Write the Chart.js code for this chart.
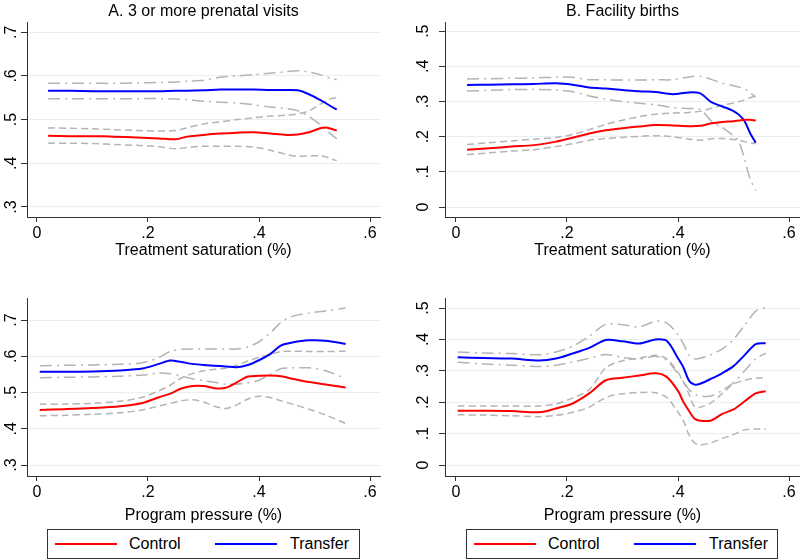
<!DOCTYPE html>
<html>
<head>
<meta charset="utf-8">
<script src="https://cdn.jsdelivr.net/npm/chart.js@4/dist/chart.umd.min.js"></script>
<style>
  body { margin:0; background:#fff; width:800px; height:560px; position:relative; overflow:hidden;
         font-family:"Liberation Sans", Arial, sans-serif; }
  canvas { position:absolute; }
  .legend { position:absolute; top:529px; width:313px; height:30px; border:1px solid #333; box-sizing:border-box; background:#fff; }
  .legend .ln { position:absolute; top:13px; width:62px; height:0; border-top:2px solid; }
  .legend .tx { position:absolute; top:0; line-height:28px; font-size:16px; color:#000; }
</style>
</head>
<body>
<canvas id="cA" width="400" height="260" style="left:0;top:0"></canvas>
<canvas id="cB" width="400" height="260" style="left:400px;top:0"></canvas>
<canvas id="cC" width="400" height="265" style="left:0;top:260px"></canvas>
<canvas id="cD" width="400" height="265" style="left:400px;top:260px"></canvas>

<div class="legend" style="left:47px">
  <div class="ln" style="left:7px;border-color:#ff0000"></div><div class="tx" style="left:81px">Control</div>
  <div class="ln" style="left:167px;border-color:#0000ff"></div><div class="tx" style="left:242px">Transfer</div>
</div>
<div class="legend" style="left:466px;width:312px">
  <div class="ln" style="left:7px;border-color:#ff0000"></div><div class="tx" style="left:81px">Control</div>
  <div class="ln" style="left:167px;border-color:#0000ff"></div><div class="tx" style="left:242px">Transfer</div>
</div>

<script>
// ---------- tick values and labels ----------
const xTicks = [0, 0.2, 0.4, 0.6];
const xTickLabels = ['0', '.2', '.4', '.6'];
const yTicksA = [0.3, 0.4, 0.5, 0.6, 0.7];
const yTickLabelsA = ['.3', '.4', '.5', '.6', '.7'];
const yTicksB = [0, 0.1, 0.2, 0.3, 0.4, 0.5];
const yTickLabelsB = ['0', '.1', '.2', '.3', '.4', '.5'];

// ---------- Panel A: 3 or more prenatal visits vs treatment saturation ----------
const aX          = [0.02, 0.06, 0.10, 0.14, 0.18, 0.22, 0.25, 0.27, 0.30, 0.33, 0.36, 0.39, 0.42, 0.45, 0.47, 0.49, 0.51, 0.52, 0.53, 0.54];
const aControl    = [0.463,0.462,0.462,0.461,0.459,0.457,0.455,0.461,0.465,0.468,0.470,0.471,0.468,0.465,0.466,0.471,0.480,0.482,0.479,0.475];
const aControlLo  = [0.446,0.446,0.445,0.443,0.441,0.438,0.433,0.436,0.439,0.439,0.439,0.437,0.430,0.420,0.416,0.417,0.417,0.415,0.410,0.406];
const aControlHi  = [0.481,0.480,0.479,0.477,0.475,0.474,0.475,0.481,0.490,0.495,0.500,0.504,0.508,0.510,0.513,0.520,0.535,0.542,0.548,0.550];
const aTransfer   = [0.566,0.566,0.565,0.565,0.565,0.565,0.566,0.566,0.567,0.569,0.569,0.569,0.568,0.568,0.567,0.558,0.545,0.538,0.530,0.523];
const aTransferLo = [0.548,0.548,0.548,0.548,0.548,0.548,0.547,0.546,0.542,0.540,0.538,0.534,0.529,0.525,0.520,0.507,0.489,0.477,0.466,0.456];
const aTransferHi = [0.583,0.583,0.583,0.583,0.584,0.585,0.586,0.588,0.590,0.597,0.600,0.603,0.606,0.610,0.612,0.609,0.603,0.598,0.594,0.592];

// ---------- Panel B: facility births vs treatment saturation ----------
const bX          = [0.02, 0.06, 0.10, 0.14, 0.18, 0.21, 0.24, 0.27, 0.30, 0.33, 0.36, 0.39, 0.42, 0.44, 0.46, 0.48, 0.50, 0.51, 0.52, 0.53, 0.54];
const bControl    = [0.163,0.167,0.172,0.176,0.186,0.197,0.209,0.218,0.224,0.229,0.233,0.232,0.230,0.231,0.238,0.242,0.244,0.246,0.248,0.248,0.246];
const bControlLo  = [0.149,0.154,0.159,0.163,0.172,0.180,0.190,0.195,0.198,0.201,0.203,0.200,0.193,0.190,0.194,0.195,0.192,0.190,0.186,0.183,0.180];
const bControlHi  = [0.178,0.183,0.188,0.193,0.198,0.206,0.220,0.235,0.247,0.257,0.264,0.267,0.269,0.272,0.281,0.289,0.296,0.300,0.305,0.311,0.316];
const bTransfer   = [0.347,0.348,0.349,0.350,0.352,0.348,0.340,0.337,0.333,0.329,0.327,0.321,0.326,0.323,0.298,0.286,0.273,0.262,0.244,0.210,0.183];
const bTransferLo = [0.330,0.332,0.334,0.334,0.333,0.328,0.316,0.307,0.300,0.295,0.291,0.283,0.280,0.278,0.245,0.226,0.202,0.185,0.135,0.080,0.047];
const bTransferHi = [0.364,0.365,0.366,0.367,0.369,0.369,0.362,0.362,0.361,0.361,0.362,0.362,0.370,0.372,0.363,0.352,0.345,0.341,0.336,0.325,0.313];

// ---------- Panel C: 3 or more prenatal visits vs program pressure ----------
const cX          = [0.005,0.05, 0.10, 0.15, 0.19, 0.22, 0.24, 0.26, 0.28, 0.30, 0.32, 0.34, 0.36, 0.38, 0.40, 0.42, 0.44, 0.46, 0.49, 0.52, 0.556];
const cControl    = [0.452,0.454,0.457,0.462,0.471,0.487,0.497,0.511,0.518,0.518,0.512,0.513,0.528,0.544,0.546,0.547,0.545,0.538,0.529,0.522,0.514];
const cControlLo  = [0.436,0.437,0.440,0.444,0.452,0.463,0.470,0.477,0.480,0.474,0.462,0.456,0.466,0.482,0.490,0.486,0.477,0.468,0.454,0.438,0.415];
const cControlHi  = [0.468,0.468,0.470,0.476,0.487,0.505,0.520,0.540,0.552,0.560,0.564,0.567,0.575,0.587,0.597,0.605,0.613,0.614,0.613,0.613,0.614];
const cTransfer   = [0.557,0.557,0.558,0.561,0.566,0.579,0.588,0.584,0.579,0.576,0.574,0.572,0.570,0.576,0.589,0.606,0.630,0.638,0.644,0.643,0.634];
const cTransferLo = [0.541,0.542,0.543,0.545,0.548,0.554,0.552,0.545,0.538,0.533,0.528,0.523,0.523,0.527,0.534,0.550,0.566,0.568,0.568,0.560,0.539];
const cTransferHi = [0.574,0.575,0.576,0.578,0.582,0.597,0.613,0.619,0.620,0.620,0.620,0.620,0.620,0.626,0.640,0.664,0.694,0.710,0.719,0.725,0.733];

// ---------- Panel D: facility births vs program pressure ----------
const dX          = [0.003,0.05, 0.10, 0.15, 0.18, 0.21, 0.24, 0.27, 0.30, 0.33, 0.36, 0.38, 0.40, 0.41, 0.42, 0.43, 0.44, 0.46, 0.48, 0.50, 0.52, 0.54, 0.558];
const dControl    = [0.173,0.173,0.172,0.168,0.180,0.196,0.228,0.270,0.278,0.285,0.292,0.280,0.236,0.200,0.172,0.147,0.141,0.142,0.163,0.177,0.203,0.228,0.235];
const dControlLo  = [0.160,0.159,0.157,0.154,0.158,0.168,0.184,0.215,0.227,0.231,0.230,0.215,0.168,0.140,0.095,0.070,0.064,0.071,0.085,0.097,0.112,0.115,0.114];
const dControlHi  = [0.188,0.188,0.188,0.188,0.195,0.213,0.240,0.310,0.332,0.340,0.350,0.338,0.295,0.265,0.225,0.185,0.184,0.199,0.228,0.258,0.270,0.277,0.277];
const dTransfer   = [0.343,0.341,0.339,0.333,0.339,0.355,0.373,0.398,0.394,0.387,0.400,0.395,0.340,0.310,0.268,0.256,0.259,0.275,0.293,0.315,0.350,0.385,0.388];
const dTransferLo = [0.327,0.322,0.318,0.314,0.318,0.328,0.340,0.352,0.343,0.338,0.346,0.333,0.290,0.265,0.240,0.226,0.220,0.220,0.238,0.262,0.300,0.338,0.356];
const dTransferHi = [0.360,0.357,0.355,0.351,0.360,0.378,0.410,0.448,0.447,0.440,0.458,0.452,0.415,0.385,0.350,0.338,0.340,0.352,0.370,0.400,0.445,0.490,0.502];

// ---------- styling ----------
const FONT = '"Liberation Sans", Arial, sans-serif';
const RED = '#ff0000', BLUE = '#0000ff', GRAY = '#b4b4b4';
const AXIS = '#333333', GRID = '#e6eff1';

function pts(xs, ys) { return xs.map((x, i) => ({x: x, y: ys[i]})); }

function makeChart(id, o) {
  const line = (data, color, width, dash) => ({
    data: data, borderColor: color, borderWidth: width, borderDash: dash || [],
    pointRadius: 0, fill: false, tension: 0.3
  });
  new Chart(document.getElementById(id), {
    type: 'line',
    data: {
      datasets: [
        line(pts(o.x, o.control), RED, 2),
        line(pts(o.x, o.transfer), BLUE, 2),
        line(pts(o.x, o.controlLo), GRAY, 1.5, [7, 4]),
        line(pts(o.x, o.controlHi), GRAY, 1.5, [7, 4]),
        line(pts(o.x, o.transferLo), GRAY, 1.5, [12, 5, 2, 5]),
        line(pts(o.x, o.transferHi), GRAY, 1.5, [12, 5, 2, 5])
      ]
    },
    options: {
      responsive: false, animation: false, devicePixelRatio: 1,
      layout: { padding: o.padding },
      plugins: {
        legend: { display: false }, tooltip: { enabled: false },
        title: {
          display: !!o.title, text: o.title || '', fullSize: false,
          color: '#000', font: { family: FONT, size: 16, weight: 'normal', lineHeight: 1.2 },
          padding: { top: 2, bottom: 1 }
        }
      },
      scales: {
        x: {
          type: 'linear', min: o.xMin, max: o.xMax,
          afterBuildTicks: s => { s.ticks = xTicks.map(v => ({value: v})); },
          afterFit: s => { s.height = o.xAxisH; },
          ticks: { callback: (v, i) => xTickLabels[i], color: '#000', padding: 2,
                   font: { family: FONT, size: 16 }, maxRotation: 0, minRotation: 0 },
          grid: { drawOnChartArea: false, drawTicks: true, tickLength: 5, tickColor: AXIS, tickWidth: 1 },
          border: { display: true, color: AXIS, width: 1 },
          title: { display: true, text: o.xTitle, color: '#000', padding: { top: 0, bottom: 0 },
                   font: { family: FONT, size: 16, lineHeight: 1.2 } }
        },
        y: {
          type: 'linear', min: o.yMin, max: o.yMax,
          afterBuildTicks: s => { s.ticks = o.yTicks.map(v => ({value: v})); },
          afterFit: s => { s.width = o.yAxisW; },
          ticks: { callback: (v, i) => o.yLabels[i], color: '#000', padding: o.yPad,
                   crossAlign: 'center', minRotation: 90, maxRotation: 90,
                   font: { family: FONT, size: 16 } },
          grid: { color: GRID, lineWidth: 1, drawTicks: true, tickLength: 6, tickColor: AXIS, tickWidth: 1 },
          border: { display: true, color: AXIS, width: 1 }
        }
      }
    }
  });
}

makeChart('cA', {
  title: 'A. 3 or more prenatal visits', xTitle: 'Treatment saturation (%)',
  x: aX, control: aControl, controlLo: aControlLo, controlHi: aControlHi,
  transfer: aTransfer, transferLo: aTransferLo, transferHi: aTransferHi,
  xMin: -0.018, xMax: 0.618, yMin: 0.277, yMax: 0.723,
  yTicks: yTicksA, yLabels: yTickLabelsA,
  padding: { left: 0, right: 20, top: 0, bottom: 0 }, xAxisH: 43, yAxisW: 27, yPad: 3
});
makeChart('cB', {
  title: 'B. Facility births', xTitle: 'Treatment saturation (%)',
  x: bX, control: bControl, controlLo: bControlLo, controlHi: bControlHi,
  transfer: bTransfer, transferLo: bTransferLo, transferHi: bTransferHi,
  xMin: -0.0198, xMax: 0.6198, yMin: -0.0284, yMax: 0.5256,
  yTicks: yTicksB, yLabels: yTickLabelsB,
  padding: { left: 0, right: 0, top: 0, bottom: 0 }, xAxisH: 43, yAxisW: 45, yPad: 9
});
makeChart('cC', {
  title: null, xTitle: 'Program pressure (%)',
  x: cX, control: cControl, controlLo: cControlLo, controlHi: cControlHi,
  transfer: cTransfer, transferLo: cTransferLo, transferHi: cTransferHi,
  xMin: -0.018, xMax: 0.618, yMin: 0.2697, yMax: 0.7607,
  yTicks: yTicksA, yLabels: yTickLabelsA,
  padding: { left: 0, right: 20, top: 38, bottom: 0 }, xAxisH: 49, yAxisW: 27, yPad: 3
});
makeChart('cD', {
  title: null, xTitle: 'Program pressure (%)',
  x: dX, control: dControl, controlLo: dControlLo, controlHi: dControlHi,
  transfer: dTransfer, transferLo: dTransferLo, transferHi: dTransferHi,
  xMin: -0.0198, xMax: 0.6198, yMin: -0.035, yMax: 0.532,
  yTicks: yTicksB, yLabels: yTickLabelsB,
  padding: { left: 0, right: 0, top: 38, bottom: 0 }, xAxisH: 49, yAxisW: 45, yPad: 9
});
</script>
</body>
</html>
